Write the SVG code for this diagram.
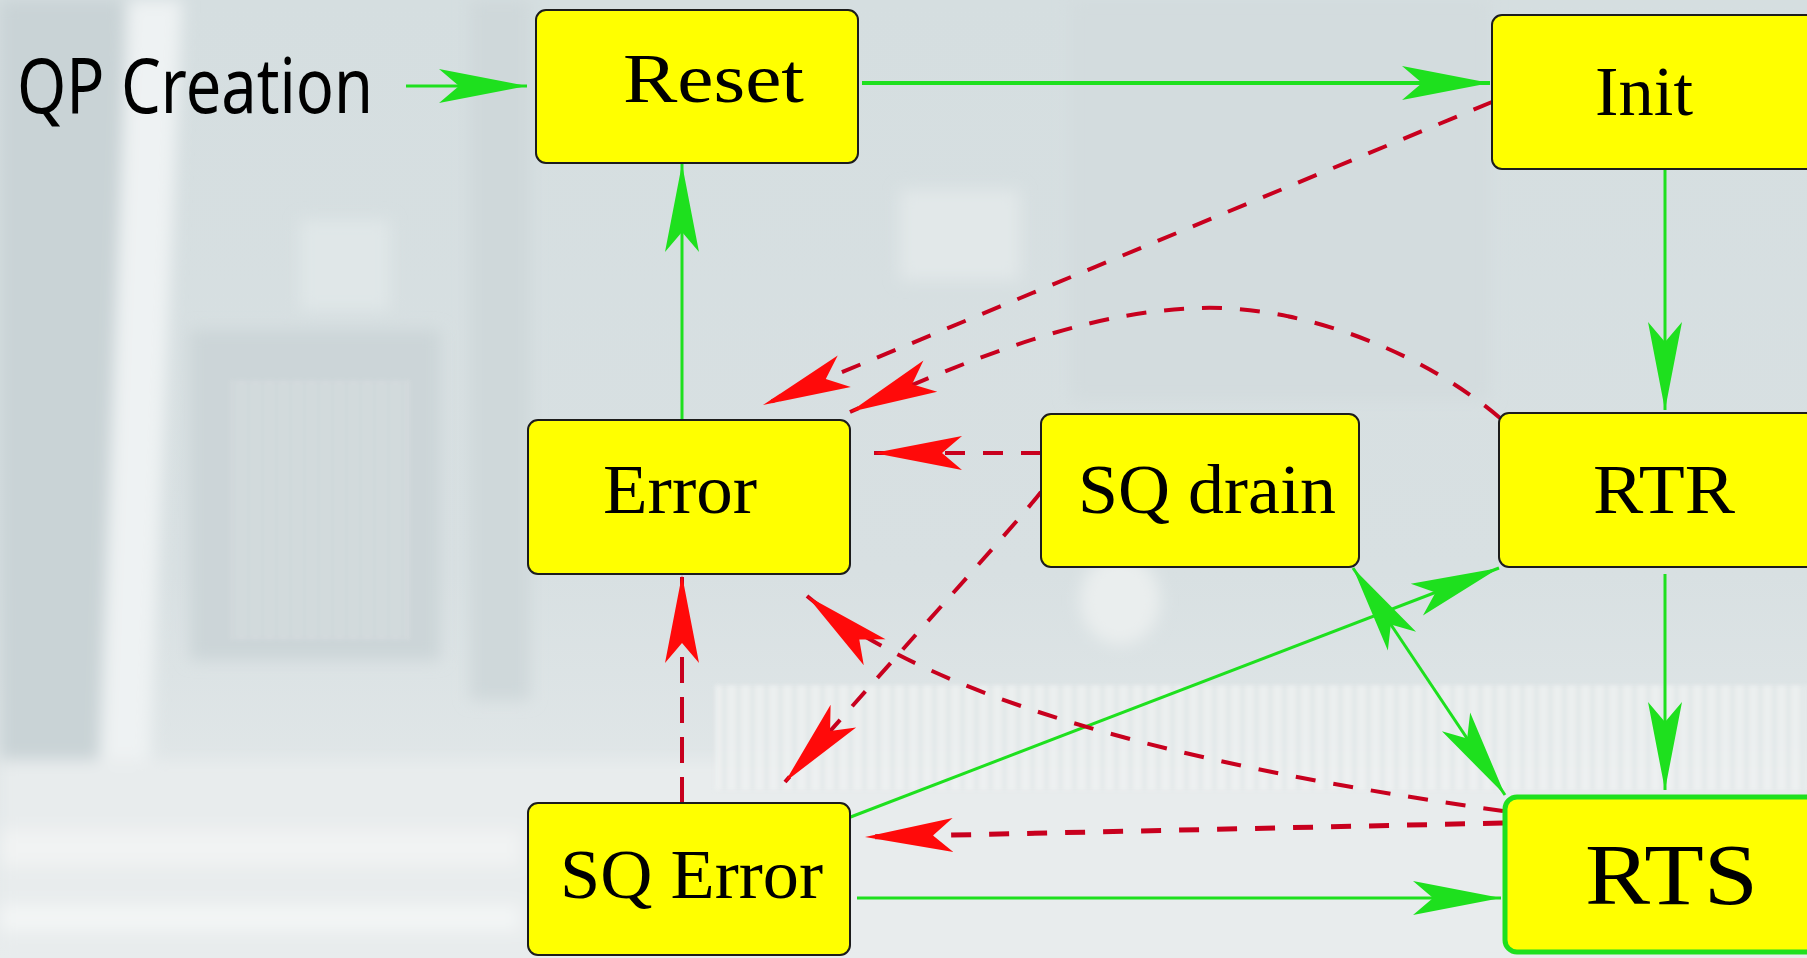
<svg xmlns="http://www.w3.org/2000/svg" width="1807" height="958" viewBox="0 0 1807 958">
  <defs>
    <style>
      .box { fill: #ffff00; stroke: #1c1c1c; stroke-width: 2; }
      .box-active { fill: #ffff00; stroke: #1ee01e; stroke-width: 5; }
      .lbl { font-family: "Liberation Serif", "Times New Roman", serif; font-size: 70px; fill: #000; }
      .big { font-size: 86px; }
      .note { font-family: "Noto Sans", "DejaVu Sans", sans-serif; font-size: 76px; fill: #000; }
      .go { fill: none; stroke: #1ee01e; stroke-width: 3; }
      .go-thick { stroke-width: 4; }
      .fail { fill: none; stroke: #c8001e; stroke-width: 4; stroke-dasharray: 20 18; }
      .fail-v { stroke-dasharray: 26 14; }
      .fail-thick { stroke-width: 5; }
    </style>
    <!-- barbed arrowheads, tip at the path end -->
    <marker id="ag" viewBox="-92 -20 94 40" refX="0" refY="0" markerWidth="94" markerHeight="40" markerUnits="userSpaceOnUse" orient="auto">
      <path d="M0,0 L-88,-17 L-68,0 L-88,17 Z" fill="#1ee01e"/>
    </marker>
    <marker id="ag-start" viewBox="-92 -20 94 40" refX="0" refY="0" markerWidth="94" markerHeight="40" markerUnits="userSpaceOnUse" orient="auto-start-reverse">
      <path d="M0,0 L-88,-17 L-68,0 L-88,17 Z" fill="#1ee01e"/>
    </marker>
    <marker id="ar" viewBox="-92 -20 94 40" refX="0" refY="0" markerWidth="94" markerHeight="40" markerUnits="userSpaceOnUse" orient="auto">
      <path d="M0,0 L-88,-17 L-68,0 L-88,17 Z" fill="#ff0a0a"/>
    </marker>
    <filter id="soft" x="-5%" y="-5%" width="110%" height="110%">
      <feGaussianBlur stdDeviation="8"/>
    </filter>
    <filter id="softer" x="-5%" y="-5%" width="110%" height="110%">
      <feGaussianBlur stdDeviation="2"/>
    </filter>
    <!-- heatsink fins -->
    <pattern id="fins" width="14" height="120" patternUnits="userSpaceOnUse">
      <rect width="14" height="120" fill="#eef1f1"/>
      <rect x="9" width="3" height="120" fill="#dde3e4"/>
    </pattern>
    <linearGradient id="shade" x1="0" y1="0" x2="0" y2="1">
      <stop offset="0" stop-color="#d5dee0"/>
      <stop offset="0.6" stop-color="#d8e0e2"/>
      <stop offset="1" stop-color="#e8eced"/>
    </linearGradient>
  </defs>

  <!-- faded circuit-board backdrop -->
  <g id="backdrop">
    <rect width="1807" height="958" fill="url(#shade)"/>
    <g filter="url(#soft)">
      <rect x="0" y="0" width="125" height="760" fill="#c9d3d6"/>
      <polygon points="128,0 182,0 150,760 100,760" fill="#eef2f3"/>
      <rect x="190" y="330" width="250" height="330" fill="#ccd5d8"/>
      <rect x="300" y="220" width="90" height="90" fill="#e0e7e8"/>
      <rect x="470" y="0" width="60" height="700" fill="#cfd8da"/>
      <rect x="900" y="190" width="120" height="90" fill="#e2e8e9"/>
      <rect x="1070" y="0" width="420" height="400" fill="#d3dcde"/>
      <ellipse cx="1120" cy="600" rx="40" ry="45" fill="#eaeeee"/>
      <rect x="0" y="760" width="1807" height="198" fill="#e8eced"/>
      <rect x="0" y="830" width="520" height="36" fill="#f1f3f3"/>
      <rect x="0" y="905" width="520" height="26" fill="#f3f5f5"/>
    </g>
    <g filter="url(#softer)" opacity="0.85">
      <rect x="715" y="685" width="1092" height="105" fill="url(#fins)"/>
      <rect x="230" y="380" width="180" height="260" fill="url(#fins)" opacity="0.25"/>
    </g>
  </g>

  <!-- transitions -->
  <g id="connectors">
    <!-- normal transitions -->
    <path class="go" d="M406,86 L527,86" marker-end="url(#ag)"/>
    <path class="go go-thick" d="M862,83 L1490,83" marker-end="url(#ag)"/>
    <path class="go" d="M682,420 L682,164" marker-end="url(#ag)"/>
    <path class="go" d="M1665,169 L1665,410" marker-end="url(#ag)"/>
    <path class="go" d="M1665,574 L1665,790" marker-end="url(#ag)"/>
    <path class="go" d="M857,898 L1501,898" marker-end="url(#ag)"/>
    <path class="go" d="M848,818 L1499,568" marker-end="url(#ag)"/>
    <path class="go" d="M1353,568 L1505,795" marker-start="url(#ag-start)" marker-end="url(#ag)"/>

    <!-- error transitions -->
    <path class="fail" d="M1492,102 L763,405" marker-end="url(#ar)"/>
    <path class="fail" d="M1500,418 C1420,350 1300,305 1200,308 C1100,311 1000,345 850,412" marker-end="url(#ar)"/>
    <path class="fail" d="M1041,453 L874,453" marker-end="url(#ar)"/>
    <path class="fail" d="M1041,492 C1015,525 955,590 785,782" marker-end="url(#ar)"/>
    <path class="fail fail-v" d="M682,803 L682,575" marker-end="url(#ar)"/>
    <path class="fail" d="M1503,811 C1250,775 950,715 807,596" marker-end="url(#ar)"/>
    <path class="fail fail-thick" d="M1503,823 L865,837" marker-end="url(#ar)"/>
  </g>

  <text class="note" x="17" y="113" textLength="356" lengthAdjust="spacingAndGlyphs">QP Creation</text>

  <g id="reset">
    <rect class="box" x="536" y="10" width="322" height="153" rx="10"/>
    <text class="lbl" x="623" y="102" textLength="181" lengthAdjust="spacingAndGlyphs">Reset</text>
  </g>
  <g id="init">
    <rect class="box" x="1492" y="15" width="340" height="154" rx="10"/>
    <text class="lbl" x="1595" y="115" textLength="98" lengthAdjust="spacingAndGlyphs">Init</text>
  </g>
  <g id="error">
    <rect class="box" x="528" y="420" width="322" height="154" rx="10"/>
    <text class="lbl" x="603" y="513" textLength="154" lengthAdjust="spacingAndGlyphs">Error</text>
  </g>
  <g id="sq-drain">
    <rect class="box" x="1041" y="414" width="318" height="153" rx="10"/>
    <text class="lbl" x="1078" y="513" textLength="258" lengthAdjust="spacingAndGlyphs">SQ drain</text>
  </g>
  <g id="rtr">
    <rect class="box" x="1499" y="413" width="340" height="154" rx="10"/>
    <text class="lbl" x="1593" y="513" textLength="142" lengthAdjust="spacingAndGlyphs">RTR</text>
  </g>
  <g id="sq-error">
    <rect class="box" x="528" y="803" width="322" height="152" rx="10"/>
    <text class="lbl" x="560" y="898" textLength="263" lengthAdjust="spacingAndGlyphs">SQ Error</text>
  </g>
  <g id="rts">
    <rect class="box-active" x="1505" y="797" width="340" height="155" rx="12"/>
    <text class="lbl big" x="1585" y="904" textLength="173" lengthAdjust="spacingAndGlyphs">RTS</text>
  </g>
</svg>
